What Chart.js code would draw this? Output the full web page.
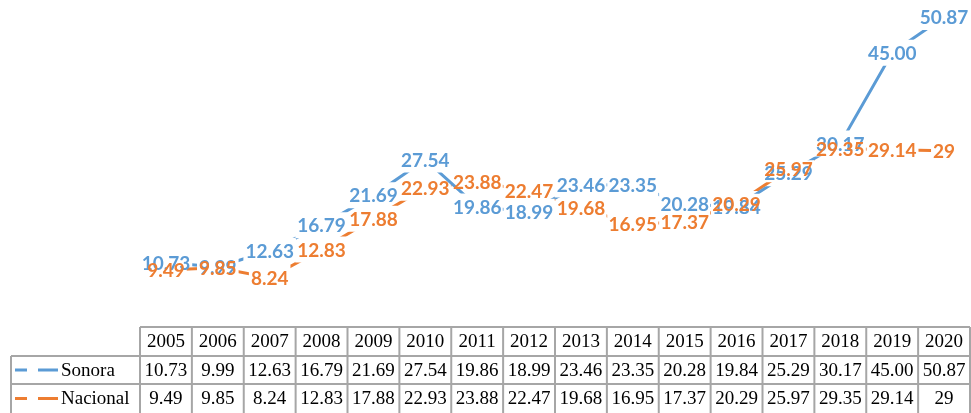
<!DOCTYPE html>
<html>
<head>
<meta charset="utf-8">
<script src="https://cdn.jsdelivr.net/npm/chart.js@4"></script>
<style>
  html, body { margin: 0; padding: 0; background: #fff; }
  canvas { display: block; }
</style>
</head>
<body>
<canvas id="myChart" width="971" height="413"></canvas>
<script>
const years = ['2005', '2006', '2007', '2008', '2009', '2010', '2011', '2012',
  '2013', '2014', '2015', '2016', '2017', '2018', '2019', '2020'];
const sonora = [10.73, 9.99, 12.63, 16.79, 21.69, 27.54, 19.86, 18.99,
  23.46, 23.35, 20.28, 19.84, 25.29, 30.17, 45.00, 50.87];
const nacional = [9.49, 9.85, 8.24, 12.83, 17.88, 22.93, 23.88, 22.47,
  19.68, 16.95, 17.37, 20.29, 25.97, 29.35, 29.14, 29];

const sonoraText = sonora.map(v => v.toFixed(2));
const nacionalText = nacional.map(v => String(v));

const BLUE = '#5B9BD5';
const ORANGE = '#ED7D31';
const labelFont = '700 19px Lato';
const tableFont = '19px "Liberation Serif"';

// boxes round each data label, used to cut the line and place the text
function labelBoxes(chart, index) {
  const ctx = chart.ctx;
  const meta = chart.getDatasetMeta(index);
  const texts = chart.data.datasets[index].texts;
  ctx.save();
  ctx.font = labelFont;
  const boxes = meta.data.map((pt, i) => {
    const w = ctx.measureText(texts[i]).width;
    return { x: pt.x - w / 2 - 2, y: pt.y - 13, w: w + 4, h: 26, cx: pt.x, cy: pt.y, text: texts[i] };
  });
  ctx.restore();
  return boxes;
}

const gapLabels = {
  id: 'gapLabels',
  beforeDatasetDraw(chart, args) {
    const ctx = chart.ctx;
    ctx.save();
    ctx.beginPath();
    ctx.rect(0, 0, chart.width, chart.height);
    labelBoxes(chart, args.index).forEach(b => ctx.rect(b.x, b.y, b.w, b.h));
    ctx.clip('evenodd');
  },
  afterDatasetDraw(chart) {
    chart.ctx.restore();
  },
  afterDatasetsDraw(chart) {
    const ctx = chart.ctx;
    chart.data.datasets.forEach((ds, index) => {
      const boxes = labelBoxes(chart, index);
      ctx.save();
      ctx.font = labelFont;
      ctx.fillStyle = ds.borderColor;
      ctx.textAlign = 'center';
      ctx.textBaseline = 'middle';
      boxes.forEach(b => ctx.fillText(b.text, b.cx, b.cy + 1));
      ctx.restore();
    });
  }
};

// data table under the plot, columns follow the x scale
const dataTable = {
  id: 'dataTable',
  afterDraw(chart) {
    const ctx = chart.ctx;
    const x = chart.scales.x;
    const half = (x.getPixelForValue(1) - x.getPixelForValue(0)) / 2;
    const left = x.getPixelForValue(0) - half;
    const right = x.getPixelForValue(years.length - 1) + half;
    const rows = [327, 356, 384, 413];
    const keyLeft = 11;

    ctx.save();
    ctx.strokeStyle = '#a6a6a6';
    ctx.lineWidth = 2;
    ctx.beginPath();
    ctx.moveTo(left, rows[0]); ctx.lineTo(right, rows[0]);
    ctx.moveTo(keyLeft, rows[1]); ctx.lineTo(right, rows[1]);
    ctx.moveTo(keyLeft, rows[2]); ctx.lineTo(right, rows[2]);
    ctx.moveTo(keyLeft, rows[1]); ctx.lineTo(keyLeft, rows[3]);
    for (let i = 0; i <= years.length; i++) {
      const px = i < years.length ? x.getPixelForValue(i) - half : right;
      ctx.moveTo(px, rows[0]); ctx.lineTo(px, rows[3]);
    }
    ctx.stroke();

    ctx.font = tableFont;
    ctx.fillStyle = '#000';
    ctx.textAlign = 'center';
    ctx.textBaseline = 'middle';
    years.forEach((y, i) => {
      const px = x.getPixelForValue(i);
      ctx.fillText(y, px, (rows[0] + rows[1]) / 2 + 1);
      ctx.fillText(sonoraText[i], px, (rows[1] + rows[2]) / 2 + 1);
      ctx.fillText(nacionalText[i], px, (rows[2] + rows[3]) / 2 + 1);
    });

    // legend keys
    chart.data.datasets.forEach((ds, k) => {
      const cy = (rows[k + 1] + rows[k + 2]) / 2;
      ctx.strokeStyle = ds.borderColor;
      ctx.lineWidth = 3;
      ctx.beginPath();
      ctx.moveTo(15, cy); ctx.lineTo(27, cy);
      ctx.moveTo(38, cy); ctx.lineTo(58, cy);
      ctx.stroke();
      ctx.fillStyle = '#000';
      ctx.textAlign = 'left';
      ctx.fillText(ds.label, 61, cy + 1);
    });
    ctx.restore();
  }
};

const ctx = document.getElementById('myChart').getContext('2d');
const myChart = new Chart(ctx, {
  type: 'line',
  data: {
    labels: years,
    datasets: [
      {
        label: 'Sonora',
        data: sonora,
        texts: sonoraText,
        borderColor: BLUE,
        backgroundColor: BLUE,
        borderWidth: 3,
        pointRadius: 0,
        tension: 0
      },
      {
        label: 'Nacional',
        data: nacional,
        texts: nacionalText,
        borderColor: ORANGE,
        backgroundColor: ORANGE,
        borderWidth: 3,
        pointRadius: 0,
        tension: 0
      }
    ]
  },
  options: {
    responsive: false,
    animation: false,
    devicePixelRatio: 1,
    layout: { padding: { top: 10, left: 140, right: 1, bottom: 85 } },
    plugins: {
      legend: { display: false },
      tooltip: { enabled: false }
    },
    scales: {
      x: { display: false, offset: true },
      y: { display: false, min: 0, max: 52 }
    }
  },
  plugins: [gapLabels, dataTable]
});
</script>
</body>
</html>
